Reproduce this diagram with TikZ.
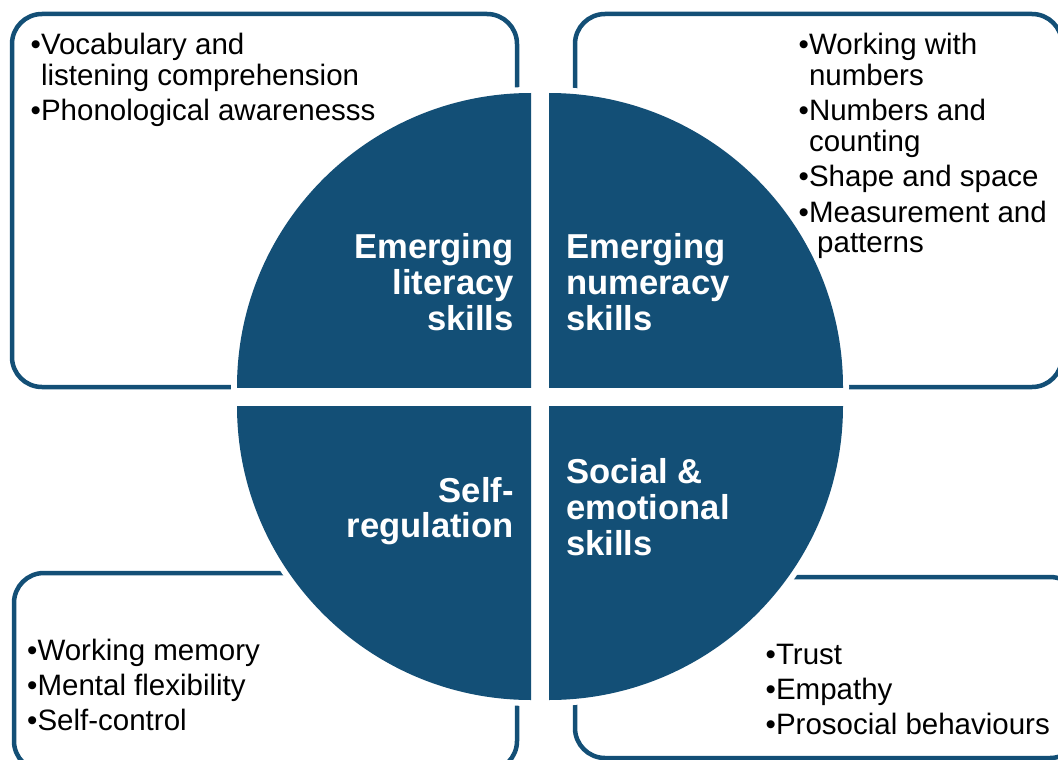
\documentclass[tikz,border=0pt]{standalone}
\usepackage{fontspec}
\setmainfont{Liberation Sans}
\definecolor{navy}{HTML}{134F76}
\begin{document}
\begin{tikzpicture}[x=1pt,y=-1pt,
  box/.style={draw=navy, line width=4.5pt, rounded corners=30pt},
  item/.style={inner sep=0pt, anchor=base west, text=black, font=\fontsize{29.5}{30}\selectfont},
  labl/.style={inner sep=0pt, text=white, font=\fontsize{34.6}{36}\selectfont\bfseries},
  labr/.style={labl, anchor=base east},
  labw/.style={labl, anchor=base west}]
\useasboundingbox (0,0) rectangle (1058,760);
\clip (0,0) rectangle (1058,760);
% outer boxes
\draw[box] (12,14) rectangle (517,387);
\draw[box] (575,14) rectangle (1062,387);
\draw[box] (14,573) rectangle (517,771);
\draw[box] (575,577) rectangle (1080,758);
% white borders of the quadrants
\foreach \cx/\cy/\sx/\sy in {531/387/-1/-1, 549/387/1/-1, 531/406/-1/1, 549/406/1/1}{
  \begin{scope}
    \clip (\cx-6*\sx, \cy-6*\sy) rectangle (\cx+300*\sx, \cy+300*\sy);
    \fill[white] (\cx,\cy) circle (300);
  \end{scope}
}
% quadrants
\foreach \cx/\cy/\sx/\sy in {531/387/-1/-1, 549/387/1/-1, 531/406/-1/1, 549/406/1/1}{
  \begin{scope}
    \clip (\cx,\cy) rectangle (\cx+294*\sx, \cy+294*\sy);
    \fill[navy] (\cx,\cy) circle (294);
  \end{scope}
}
% quadrant labels
\node[labr] (q1a) at (514,258) {Emerging};
\node[labr] (q1b) at (514,294) {literacy};
\node[labr] (q1c) at (514,330) {skills};
\node[labw] (q2a) at (566,258) {Emerging};
\node[labw] (q2b) at (566,294) {numeracy};
\node[labw] (q2c) at (566,330) {skills};
\node[labr] (q3a) at (514,502) {Self-};
\node[labr] (q3b) at (514,537) {regulation};
\node[labw] (q4a) at (566,483) {Social \&};
\node[labw] (q4b) at (566,519) {emotional};
\node[labw] (q4c) at (566,555) {skills};
% top-left box
\node[item] (tl1) at (30.5,55) {•Vocabulary and};
\node[item] (tl2) at (30.5,85) {\phantom{•}listening comprehension};
\node[item] (tl3) at (30.5,120) {•Phonological awarenesss};
% top-right box
\node[item] (tr1) at (798.5,55) {•Working with};
\node[item] (tr2) at (798.5,85) {\phantom{•}numbers};
\node[item] (tr3) at (798.5,120) {•Numbers and};
\node[item] (tr4) at (798.5,151) {\phantom{•}counting};
\node[item] (tr5) at (798.5,186) {•Shape and space};
\node[item] (tr6) at (798.5,222) {•Measurement and};
\node[item] (tr7) at (798.5,252) {\phantom{•} patterns};
% bottom-left box
\node[item] (bl1) at (27,660) {•Working memory};
\node[item] (bl2) at (27,695) {•Mental flexibility};
\node[item] (bl3) at (27,730) {•Self-control};
% bottom-right box
\node[item] (br1) at (765.5,664) {•Trust};
\node[item] (br2) at (765.5,699) {•Empathy};
\node[item] (br3) at (765.5,734) {•Prosocial behaviours};
\end{tikzpicture}
\end{document}
